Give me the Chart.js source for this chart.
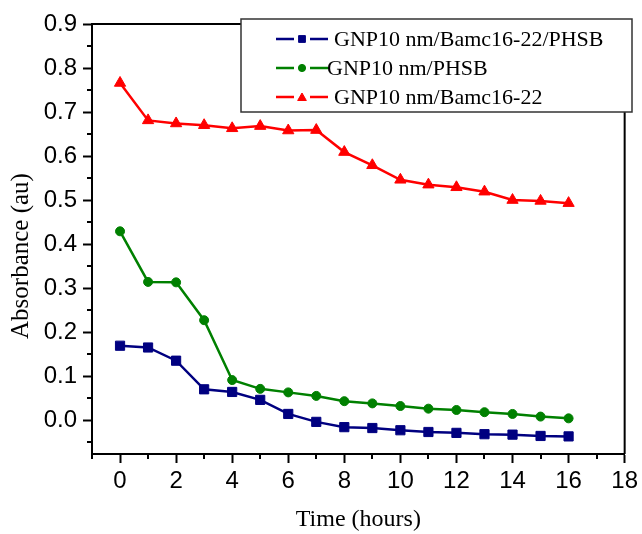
<!DOCTYPE html>
<html>
<head>
<meta charset="utf-8">
<script src="https://cdn.jsdelivr.net/npm/chart.js@4.4.1/dist/chart.umd.min.js"></script>
<style>
  html, body { margin: 0; padding: 0; background: #fff; }
</style>
</head>
<body>
<canvas id="absChart" width="642" height="534"></canvas>
<script>
const hours = [0, 1, 2, 3, 4, 5, 6, 7, 8, 9, 10, 11, 12, 13, 14, 15, 16];
const bamcPhsb = [0.169, 0.165, 0.135, 0.070, 0.064, 0.046, 0.014, -0.004, -0.016, -0.018, -0.023, -0.027, -0.029, -0.032, -0.033, -0.036, -0.037];
const phsb = [0.429, 0.314, 0.313, 0.227, 0.091, 0.071, 0.063, 0.055, 0.043, 0.038, 0.032, 0.026, 0.023, 0.018, 0.014, 0.008, 0.004];
const bamc = [0.766, 0.681, 0.674, 0.670, 0.663, 0.668, 0.658, 0.659, 0.609, 0.579, 0.546, 0.535, 0.529, 0.519, 0.500, 0.498, 0.493];
const seriesNames = ['GNP10 nm/Bamc16-22/PHSB', 'GNP10 nm/PHSB', 'GNP10 nm/Bamc16-22'];
const xTicks = [-1, 0, 1, 2, 3, 4, 5, 6, 7, 8, 9, 10, 11, 12, 13, 14, 15, 16, 17, 18];
const yTicks = [-0.05, 0, 0.05, 0.1, 0.15, 0.2, 0.25, 0.3, 0.35, 0.4, 0.45, 0.5, 0.55, 0.6, 0.65, 0.7, 0.75, 0.8, 0.85, 0.9];
const yTitle = 'Absorbance (au)';

const tickFont = { family: 'Liberation Sans, Arial, sans-serif', size: 24 };
const serifFont = { family: 'Liberation Serif, Times New Roman, serif', size: 22 };
const serifFam = 'Liberation Serif, Times New Roman, serif';

function isMajorX(v) { return v >= 0 && v % 2 === 0; }
function isMajorY(v) { return Math.abs(Math.round(v * 10) - v * 10) < 1e-6; }

function toPoints(vals) {
  return hours.map((h, i) => ({ x: h, y: vals[i] }));
}

// minor ticks, top/right frame, y title and the boxed legend
const framePlugin = {
  id: 'frame',
  afterDraw(chart) {
    const { ctx, chartArea: a, scales } = chart;
    ctx.save();
    ctx.strokeStyle = '#000';
    ctx.lineWidth = 2;
    ctx.beginPath();
    ctx.moveTo(a.left, a.top);
    ctx.lineTo(a.right, a.top);
    ctx.lineTo(a.right, a.bottom);
    xTicks.filter(v => !isMajorX(v)).forEach(v => {
      const px = Math.round(scales.x.getPixelForValue(v));
      ctx.moveTo(px, a.bottom);
      ctx.lineTo(px, a.bottom + 5);
    });
    yTicks.filter(v => !isMajorY(v)).forEach(v => {
      const py = Math.round(scales.y.getPixelForValue(v));
      ctx.moveTo(a.left - 5, py);
      ctx.lineTo(a.left, py);
    });
    ctx.stroke();

    // y axis title, sitting a bit below the plot centre as in the original
    ctx.save();
    ctx.translate(21, 256);
    ctx.rotate(-Math.PI / 2);
    ctx.fillStyle = '#000';
    ctx.font = '25px ' + serifFam;
    ctx.textAlign = 'center';
    ctx.textBaseline = 'middle';
    ctx.fillText(yTitle, 0, 0);
    ctx.restore();

    // legend
    ctx.fillStyle = '#fff';
    ctx.fillRect(241, 19, 391, 93);
    ctx.strokeStyle = '#333';
    ctx.lineWidth = 1.5;
    ctx.strokeRect(241, 19, 391, 93);

    const rows = [39, 68, 97];
    const textX = [334, 327, 334];
    const legendRadius = { rect: 4.8, circle: 3.6, triangle: 5 };
    chart.data.datasets.forEach((ds, i) => {
      const y = rows[i];
      ctx.strokeStyle = ds.borderColor;
      ctx.lineWidth = 2.5;
      ctx.beginPath();
      ctx.moveTo(276, y); ctx.lineTo(294, y);
      ctx.moveTo(310, y); ctx.lineTo(328, y);
      ctx.stroke();
      ctx.fillStyle = ds.borderColor;
      ctx.lineWidth = 1;
      Chart.helpers.drawPoint(ctx, {
        pointStyle: ds.pointStyle, radius: legendRadius[ds.pointStyle], borderWidth: 1, rotation: 0
      }, 302, ds.pointStyle === 'triangle' ? y + 1 : y);
      ctx.fillStyle = '#000';
      ctx.font = serifFont.size + 'px ' + serifFont.family;
      ctx.textAlign = 'left';
      ctx.textBaseline = 'middle';
      ctx.fillText(ds.label, textX[i], y + 1);
    });
    ctx.restore();
  }
};

new Chart(document.getElementById('absChart'), {
  type: 'line',
  data: {
    datasets: [
      { label: seriesNames[0], data: toPoints(bamcPhsb), borderColor: '#000080', backgroundColor: '#000080',
        pointStyle: 'rect', pointRadius: 6.5, borderWidth: 2.5, pointBorderWidth: 1 },
      { label: seriesNames[1], data: toPoints(phsb), borderColor: '#008000', backgroundColor: '#008000',
        pointStyle: 'circle', pointRadius: 4.5, borderWidth: 2.5, pointBorderWidth: 1 },
      { label: seriesNames[2], data: toPoints(bamc), borderColor: '#ff0000', backgroundColor: '#ff0000',
        pointStyle: 'triangle', pointRadius: 6.5, borderWidth: 2.5, pointBorderWidth: 1 }
    ]
  },
  options: {
    responsive: false,
    animation: false,
    devicePixelRatio: 1,
    layout: { padding: { top: 24, right: 16, left: 0, bottom: 0 } },
    plugins: { legend: { display: false }, tooltip: { enabled: false } },
    elements: { line: { tension: 0 } },
    scales: {
      x: {
        type: 'linear',
        min: -1,
        max: 18,
        afterBuildTicks: s => { s.ticks = xTicks.map(v => ({ value: v })); },
        afterFit: s => { s.height = 80; },
        ticks: {
          autoSkip: false, maxRotation: 0, padding: 4, color: '#000', font: tickFont,
          callback: v => isMajorX(v) ? String(v) : ''
        },
        grid: {
          drawOnChartArea: false, tickLength: 9, tickWidth: 2,
          tickColor: c => (c.tick && isMajorX(c.tick.value)) ? '#000' : 'rgba(0,0,0,0)'
        },
        border: { color: '#000', width: 2 },
        title: { display: true, text: 'Time (hours)', color: '#000', font: { family: serifFam, size: 24 }, padding: { top: 0, bottom: 0 } }
      },
      y: {
        min: -0.077,
        max: 0.9,
        afterBuildTicks: s => { s.ticks = yTicks.map(v => ({ value: v })); },
        afterFit: s => { s.width = 92; },
        ticks: {
          autoSkip: false, padding: 6, color: '#000', font: tickFont,
          callback: v => isMajorY(v) ? v.toFixed(1) : ''
        },
        grid: {
          drawOnChartArea: false, tickLength: 9, tickWidth: 2,
          tickColor: c => (c.tick && isMajorY(c.tick.value)) ? '#000' : 'rgba(0,0,0,0)'
        },
        border: { color: '#000', width: 2 },
        title: { display: false }
      }
    }
  },
  plugins: [framePlugin]
});
</script>
</body>
</html>
